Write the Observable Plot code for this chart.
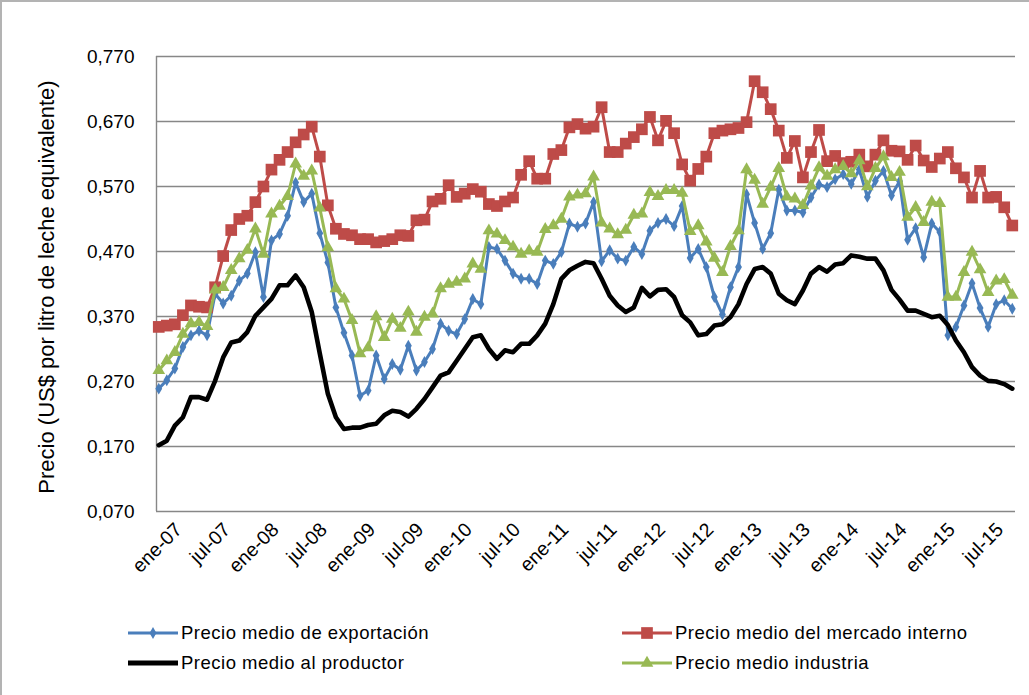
<!DOCTYPE html>
<html lang="es">
<head>
<meta charset="utf-8">
<script src="https://cdn.jsdelivr.net/npm/d3@7"></script>
<script src="https://cdn.jsdelivr.net/npm/@observablehq/plot@0.6"></script>
<style>
html,body{margin:0;padding:0;background:#fff;}
#chart{position:relative;width:1029px;height:695px;overflow:hidden;font-family:"Liberation Sans",Arial,sans-serif;color:#000;background:#fff;}
#frame{position:absolute;left:0;top:0;width:1029px;height:695px;box-sizing:border-box;border-left:2px solid #b3b3b3;border-top:2px solid #b3b3b3;pointer-events:none;}
#plot{position:absolute;left:0;top:0;}
#ytitle{position:absolute;left:47px;top:287px;transform:translate(-50%,-50%) rotate(-90deg);white-space:nowrap;font-size:22px;}
.leg{position:absolute;display:flex;align-items:center;font-size:18.5px;white-space:nowrap;transform:translateY(-50%);letter-spacing:0.5px;}
.leg svg{margin-right:3px;overflow:visible;}
</style>
</head>
<body>
<div id="chart">
  <div id="plot"></div>
  <div id="ytitle">Precio (US$ por litro de leche equivalente)</div>
  <div id="legend"></div>
  <div id="frame"></div>
</div>
<script>
const precioExportacion = [
  0.259, 0.272, 0.290, 0.323, 0.341, 0.348, 0.341, 0.405, 0.390, 0.402,
  0.425, 0.436, 0.469, 0.400, 0.487, 0.497, 0.525, 0.576, 0.546, 0.559,
  0.498, 0.453, 0.384, 0.345, 0.310, 0.248, 0.256, 0.310, 0.274, 0.297,
  0.288, 0.325, 0.287, 0.300, 0.320, 0.359, 0.348, 0.343, 0.366, 0.397,
  0.389, 0.477, 0.474, 0.456, 0.436, 0.428, 0.428, 0.420, 0.456, 0.451,
  0.469, 0.513, 0.508, 0.513, 0.546, 0.455, 0.472, 0.459, 0.456, 0.477,
  0.466, 0.502, 0.514, 0.520, 0.509, 0.540, 0.460, 0.474, 0.446, 0.400,
  0.373, 0.415, 0.446, 0.558, 0.514, 0.474, 0.498, 0.565, 0.533, 0.533,
  0.530, 0.553, 0.573, 0.569, 0.581, 0.589, 0.574, 0.596, 0.554, 0.579,
  0.594, 0.556, 0.578, 0.488, 0.506, 0.461, 0.513, 0.500, 0.341, 0.354,
  0.387, 0.421, 0.383, 0.354, 0.389, 0.395, 0.382
];
const precioMercadoInterno = [
  0.354, 0.356, 0.358, 0.372, 0.387, 0.385, 0.384, 0.415, 0.463, 0.503,
  0.520, 0.525, 0.546, 0.570, 0.596, 0.611, 0.623, 0.638, 0.650, 0.662,
  0.616, 0.541, 0.505, 0.497, 0.495, 0.489, 0.489, 0.484, 0.486, 0.489,
  0.495, 0.494, 0.518, 0.519, 0.547, 0.551, 0.572, 0.554, 0.559, 0.566,
  0.562, 0.543, 0.540, 0.547, 0.553, 0.588, 0.609, 0.582, 0.582, 0.620,
  0.626, 0.661, 0.666, 0.659, 0.662, 0.692, 0.623, 0.623, 0.636, 0.646,
  0.658, 0.677, 0.641, 0.671, 0.652, 0.604, 0.579, 0.597, 0.616, 0.652,
  0.656, 0.658, 0.660, 0.669, 0.732, 0.715, 0.689, 0.656, 0.614, 0.640,
  0.584, 0.623, 0.657, 0.609, 0.617, 0.606, 0.608, 0.619, 0.601, 0.619,
  0.641, 0.625, 0.624, 0.611, 0.633, 0.610, 0.600, 0.613, 0.623, 0.598,
  0.584, 0.553, 0.594, 0.553, 0.554, 0.538, 0.510
];
const precioProductor = [
  0.172, 0.179, 0.202, 0.215, 0.246, 0.246, 0.242, 0.271, 0.307, 0.330,
  0.333, 0.346, 0.371, 0.384, 0.397, 0.418, 0.418, 0.433, 0.415, 0.377,
  0.313, 0.251, 0.215, 0.197, 0.199, 0.199, 0.203, 0.205, 0.218, 0.225,
  0.223, 0.216, 0.228, 0.243, 0.261, 0.279, 0.284, 0.302, 0.320, 0.338,
  0.341, 0.320, 0.305, 0.318, 0.315, 0.328, 0.328, 0.341, 0.359, 0.389,
  0.428, 0.441, 0.448, 0.454, 0.452, 0.428, 0.402, 0.387, 0.377, 0.384,
  0.414, 0.401, 0.411, 0.412, 0.400, 0.372, 0.361, 0.341, 0.343, 0.356,
  0.358, 0.369, 0.389, 0.420, 0.443, 0.446, 0.436, 0.405, 0.395, 0.389,
  0.410, 0.436, 0.446, 0.439, 0.450, 0.452, 0.464, 0.462, 0.459, 0.459,
  0.441, 0.411, 0.396, 0.379, 0.379, 0.374, 0.369, 0.371, 0.357, 0.333,
  0.315, 0.292, 0.279, 0.271, 0.270, 0.266, 0.259
];
const precioIndustria = [
  0.287, 0.302, 0.315, 0.343, 0.359, 0.361, 0.355, 0.411, 0.415, 0.441,
  0.459, 0.472, 0.505, 0.466, 0.528, 0.540, 0.555, 0.605, 0.586, 0.594,
  0.537, 0.476, 0.413, 0.397, 0.364, 0.313, 0.322, 0.370, 0.338, 0.366,
  0.352, 0.377, 0.346, 0.369, 0.374, 0.413, 0.420, 0.423, 0.428, 0.451,
  0.443, 0.502, 0.497, 0.487, 0.477, 0.466, 0.471, 0.469, 0.504, 0.510,
  0.520, 0.554, 0.557, 0.559, 0.585, 0.514, 0.505, 0.496, 0.503, 0.526,
  0.528, 0.561, 0.555, 0.564, 0.564, 0.560, 0.501, 0.510, 0.485, 0.460,
  0.438, 0.478, 0.502, 0.596, 0.580, 0.543, 0.569, 0.598, 0.554, 0.551,
  0.541, 0.571, 0.599, 0.586, 0.596, 0.601, 0.590, 0.610, 0.570, 0.598,
  0.616, 0.584, 0.592, 0.523, 0.538, 0.515, 0.546, 0.544, 0.400, 0.400,
  0.438, 0.469, 0.442, 0.407, 0.425, 0.427, 0.403
];
const meses = ["ene","feb","mar","abr","may","jun","jul","ago","sep","oct","nov","dic"];
const anios = ["07","08","09","10","11","12","13","14","15"];
const categorias = anios.flatMap(a => meses.map(m => `${m}-${a}`)).slice(0, precioExportacion.length);
const etiquetasX = ["ene-07","jul-07","ene-08","jul-08","ene-09","jul-09","ene-10","jul-10","ene-11",
  "jul-11","ene-12","jul-12","ene-13","jul-13","ene-14","jul-14","ene-15","jul-15"];
const ticksY = [0.07, 0.17, 0.27, 0.37, 0.47, 0.57, 0.67, 0.77];

const series = [
  {nombre: "Precio medio de exportación", valores: precioExportacion, color: "#4A7EBB", simbolo: "diamond", r: 3.6, ancho: 3},
  {nombre: "Precio medio del mercado interno", valores: precioMercadoInterno, color: "#BE4B48", simbolo: "square", r: 6.6, ancho: 3},
  {nombre: "Precio medio al productor", valores: precioProductor, color: "#000000", simbolo: null, r: 0, ancho: 4.6},
  {nombre: "Precio medio industria", valores: precioIndustria, color: "#98B954", simbolo: "triangle", r: 4.7, ancho: 3}
];

const xDominio = [-0.28, 106.4];
const marks = [
  Plot.ruleY(ticksY, {stroke: "#878787", strokeWidth: 1.4}),
  Plot.ruleX([xDominio[0]], {stroke: "#878787", strokeWidth: 1.4}),
  Plot.axisY({ticks: ticksY, tickFormat: d => d.toFixed(3).replace(".", ","), tickSize: 0, tickPadding: 22, fontSize: 19, label: null}),
  Plot.axisX({ticks: etiquetasX.map(e => categorias.indexOf(e)), tickFormat: d => categorias[d], tickRotate: -45, tickSize: 0, tickPadding: 15, dx: 20, fontSize: 19.5, label: null})
];
for (const s of series) {
  const filas = s.valores.map((v, i) => ({i, v}));
  marks.push(Plot.line(filas, {x: "i", y: "v", stroke: s.color, strokeWidth: s.ancho, strokeLinejoin: "round", strokeLinecap: "round"}));
  if (s.simbolo) marks.push(Plot.dot(filas, {x: "i", y: "v", symbol: s.simbolo, r: s.r, fill: s.color, stroke: "none"}));
}

const grafico = Plot.plot({
  width: 1029, height: 600,
  marginLeft: 156, marginRight: 14, marginTop: 56, marginBottom: 89,
  x: {type: "linear", domain: xDominio},
  y: {domain: [0.07, 0.77]},
  style: {fontFamily: "'Liberation Sans', Arial, sans-serif", color: "#000", background: "transparent", overflow: "visible"},
  marks
});
document.getElementById("plot").appendChild(grafico);

// Leyenda
const posiciones = [[128, 633], [622, 633], [128, 663], [622, 663]];
const leyenda = document.getElementById("legend");
series.forEach((s, k) => {
  const div = document.createElement("div");
  div.className = "leg";
  div.style.left = posiciones[k][0] + "px";
  div.style.top = posiciones[k][1] + "px";
  const svg = d3.create("svg").attr("width", 50).attr("height", 16);
  svg.append("line").attr("x1", 0).attr("x2", 50).attr("y1", 8).attr("y2", 8)
    .attr("stroke", s.color).attr("stroke-width", s.simbolo ? s.ancho : 5);
  if (s.simbolo) {
    const tipos = {diamond: d3.symbolDiamond, square: d3.symbolSquare, triangle: d3.symbolTriangle};
    svg.append("path").attr("transform", "translate(25,8)")
      .attr("d", d3.symbol(tipos[s.simbolo], Math.PI * s.r * s.r)()).attr("fill", s.color);
  }
  div.appendChild(svg.node());
  const span = document.createElement("span");
  span.textContent = s.nombre;
  div.appendChild(span);
  leyenda.appendChild(div);
});
</script>
</body>
</html>
